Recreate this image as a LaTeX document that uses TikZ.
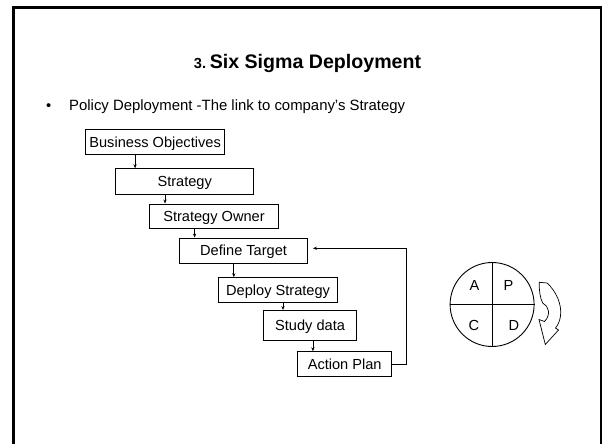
\documentclass[tikz,border=0pt]{standalone}
\usepackage{fontspec}
\setmainfont{Liberation Sans}
\usetikzlibrary{arrows.meta,calc}
\tikzset{
  boxnode/.style={draw=black,line width=0.9pt,inner sep=0pt,text height=10.5pt,text depth=0pt,
    font=\fontsize{14.6}{17}\selectfont},
  arr/.style={line width=0.7pt,-{Stealth[length=4pt,width=3.2pt]}},
  letter/.style={inner sep=0pt,anchor=base,font=\fontsize{14.6}{17}\selectfont},
  frameline/.style={line width=2.6pt,black}
}
\begin{document}
\begin{tikzpicture}[x=1pt,y=-1pt]
\useasboundingbox (0,0) rectangle (602,444);
% slide frame
\draw[frameline] (13.3,450) -- (13.3,7.5) -- (600.8,7.5) -- (600.8,450);
% title
\node[inner sep=0pt,anchor=base] (title) at (307.5,68.5)
  {\bfseries{\fontsize{14.6}{17}\selectfont 3.} {\fontsize{19.6}{23}\selectfont Six Sigma Deployment}};
% bullet
\node[inner sep=0pt,anchor=base,font=\fontsize{14.6}{17}\selectfont] (dot) at (48.8,110.5) {•};
\node[inner sep=0pt,anchor=base west,font=\fontsize{14.9}{17}\selectfont] (bullet) at (69,110.8)
  {Policy Deployment -The link to company’s Strategy};
% boxes
\node[boxnode,minimum width=138.6pt,minimum height=24.8pt] (b1) at (155.1,141.9) {Business Objectives};
\node[boxnode,minimum width=138.4pt,minimum height=25.5pt] (b2) at (184.7,181.5) {Strategy};
\node[boxnode,minimum width=128.6pt,minimum height=24.7pt] (b3) at (214,216.3) {Strategy Owner};
\node[boxnode,minimum width=128.6pt,minimum height=25.3pt] (b4) at (243.6,250.7) {Define Target};
\node[boxnode,minimum width=118.6pt,minimum height=25pt] (b5) at (278.1,290.2) {Deploy Strategy};
\node[boxnode,minimum width=93.5pt,minimum height=30pt] (b6) at (310.1,325.5) {Study data};
\node[boxnode,minimum width=93.9pt,minimum height=25pt] (b7) at (344.7,364.2) {Action Plan};
% connectors
\draw[arr] (135.1,0 |- b1.south) -- (135.1,0 |- b2.north);
\draw[arr] (165,0 |- b2.south) -- (165,0 |- b3.north);
\draw[arr] (194.6,0 |- b3.south) -- (194.6,0 |- b4.north);
\draw[arr] (233.8,0 |- b4.south) -- (233.8,0 |- b5.north);
\draw[arr] (283,0 |- b5.south) -- (283,0 |- b6.north);
\draw[arr] (312.9,0 |- b6.south) -- (312.9,0 |- b7.north);
\coordinate (fbcorner) at (406.1,248.3);
\coordinate (fbend) at (312.9,248.3);
\draw[arr] (b7.east) -| (fbcorner) -- (fbend);
% PDCA circle
\node[draw=black,line width=0.9pt,circle,minimum size=84pt,inner sep=0pt] (pdca) at (492.1,304.5) {};
\draw[line width=0.9pt] (pdca.north) -- (pdca.south);
\draw[line width=0.9pt] (pdca.west) -- (pdca.east);
\node[letter] (la) at (474.6,290.3) {A};
\node[letter] (lp) at (508.4,290.3) {P};
\node[letter] (lc) at (474,330.3) {C};
\node[letter] (ld) at (513.8,330.3) {D};
% curved block arrow
\draw[line width=0.7pt,fill=white,line join=miter]
  (539.3,282.3) -- (547,283)
  .. controls (556,291) and (562,304) .. (560.5,316)
  .. controls (559.8,321) and (558,325) .. (555.5,328)
  -- (558.5,330) -- (545.3,344.5) -- (539,319.5) -- (544.5,321.5)
  .. controls (551,315) and (549,306) .. (542.7,303)
  .. controls (540,298) and (539,290) .. cycle;
\end{tikzpicture}
\end{document}
